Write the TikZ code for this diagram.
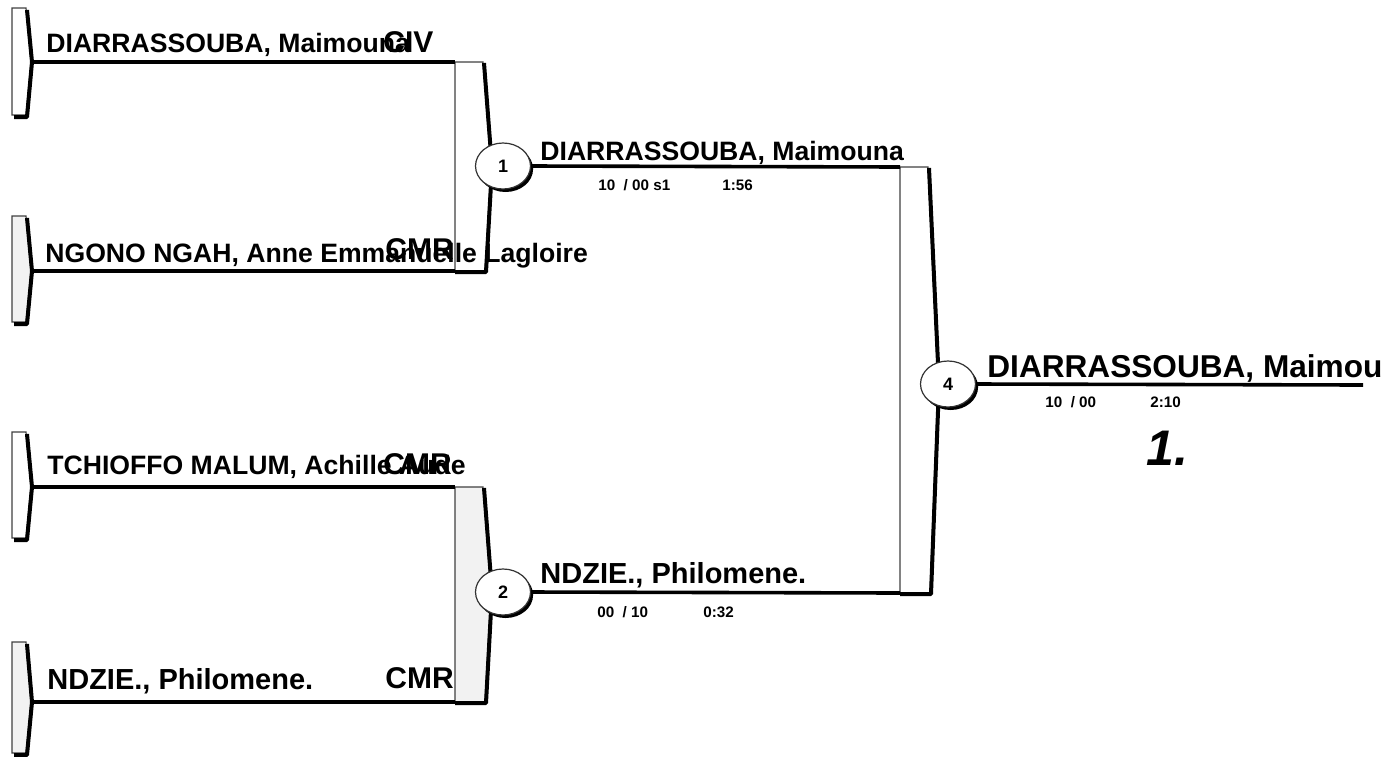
\documentclass[tikz,border=0pt]{standalone}
\usepackage{fontspec}
\setmainfont{Liberation Sans}
\usetikzlibrary{shapes.geometric, shadows}

\begin{document}
\begin{tikzpicture}[
			x=0.5pt,
			y=-0.5pt,
			tab/.style={
				draw=black!75,
				line width=0.6pt
			},
			edgeline/.style={
				draw=black,
				line width=2pt,
				line join=round
			},
			bar/.style={
				draw=black,
				line width=1.8pt
			},
			match/.style={
				ellipse,
				draw=black!80,
				line width=0.6pt,
				fill=white,
				minimum width=27.5pt,
				minimum height=23pt,
				inner sep=0pt,
				font=\bfseries\fontsize{9}{10}\selectfont,
				drop shadow={shadow xshift=1.3pt, shadow yshift=-1.5pt, fill=black, opacity=1}
			},
			player/.style={
				anchor=base west,
				inner sep=0pt,
				font=\bfseries\fontsize{13.3}{14}\selectfont
			},
			nation/.style={
				anchor=base west,
				inner sep=0pt,
				font=\bfseries\fontsize{15}{16}\selectfont
			},
			score/.style={
				anchor=west,
				inner sep=0pt,
				font=\bfseries\fontsize{7.6}{8}\selectfont
			}
			]
			\useasboundingbox (0,0) rectangle (1385,756);
			% Entry tabs
			\foreach \i/\t/\ly/\b/\col in {1/8/62/115/white, 2/216/271/322/gray!10, 3/432/487/538/white, 4/642/702/753/gray!10} {
				\filldraw[tab, fill=\col] (12,\t) -- (26,\t) -- (31,\ly) -- (26,\b) -- (12,\b) -- cycle;
				\draw[edgeline] (27,{\t+2}) -- (32,\ly) -- (27,{\b+2}) -- (14,{\b+2});
				\coordinate (tab\i) at (32,\ly);
			}
			% Brackets
			\filldraw[tab, fill=white] (455,62) -- (483,62) -- (491,167) -- (485,271) -- (455,271) -- cycle;
			\draw[edgeline] (484,63) -- (492,167) -- (486,272) -- (455,272);
			\filldraw[tab, fill=gray!10] (455,487) -- (483,487) -- (491,592) -- (485,702) -- (455,702) -- cycle;
			\draw[edgeline] (484,488) -- (492,592) -- (486,703) -- (455,703);
			\filldraw[tab, fill=white] (900,167) -- (928,167) -- (938,385) -- (930,593) -- (900,593) -- cycle;
			\draw[edgeline] (929,168) -- (939,385) -- (931,594) -- (900,594);
			\coordinate (b1t) at (455,62);
			\coordinate (b1b) at (455,271);
			\coordinate (b2t) at (455,487);
			\coordinate (b2b) at (455,702);
			\coordinate (b4t) at (900,167);
			\coordinate (b4b) at (900,593);
			\coordinate (fin) at (1363,385);
			% Lines
			\draw[bar] (tab1) -- (b1t);
			\draw[bar] (tab2) -- (b1b);
			\draw[bar] (tab3) -- (b2t);
			\draw[bar] (tab4) -- (b2b);
			% Matches
			\node[match] (m1) at (503,166) {1};
			\node[match] (m2) at (503,592) {2};
			\node[match] (m4) at (948,384) {4};
			\draw[bar] (m1.east) -- (b4t);
			\draw[bar] (m2.east) -- (b4b);
			\draw[bar] (m4.east) -- (fin);
			% Names
			\node[player] (n1) at (46,52) {DIARRASSOUBA, Maimouna};
			\node[nation] (c1) at (383,52) {CIV};
			\node[player] (n2) at (45,262) {NGONO NGAH, Anne Emmanuelle Lagloire};
			\node[nation] (c2) at (385,259) {CMR};
			\node[player] (n3) at (47,474) {TCHIOFFO MALUM, Achille Aude};
			\node[nation] (c3) at (383,474) {CMR};
			\node[player, font=\bfseries\fontsize{14.5}{15}\selectfont] (n4) at (47,689) {NDZIE., Philomene.};
			\node[nation] (c4) at (385,688) {CMR};
			\node[player] (w1) at (540,160) {DIARRASSOUBA, Maimouna};
			\node[player, font=\bfseries\fontsize{14.5}{15}\selectfont] (w2) at (540,583) {NDZIE., Philomene.};
			\node[player, font=\bfseries\fontsize{15.8}{17}\selectfont] (w4) at (987,377) {DIARRASSOUBA, Maimou};
			% Scores
			\node[score] (s1) at (598,185) {10\ \ / 00 s1};
			\node[score] (t1) at (722,185) {1:56};
			\node[score] (s2) at (597,612) {00\ \ / 10};
			\node[score] (t2) at (703,612) {0:32};
			\node[score] (s4) at (1045,402) {10\ \ / 00};
			\node[score] (t4) at (1150,402) {2:10};
			\node[anchor=base west, inner sep=0pt, font=\bfseries\itshape\fontsize{25}{27}\selectfont] (rank) at (1146,465) {1.};
		\end{tikzpicture}
\end{document}
